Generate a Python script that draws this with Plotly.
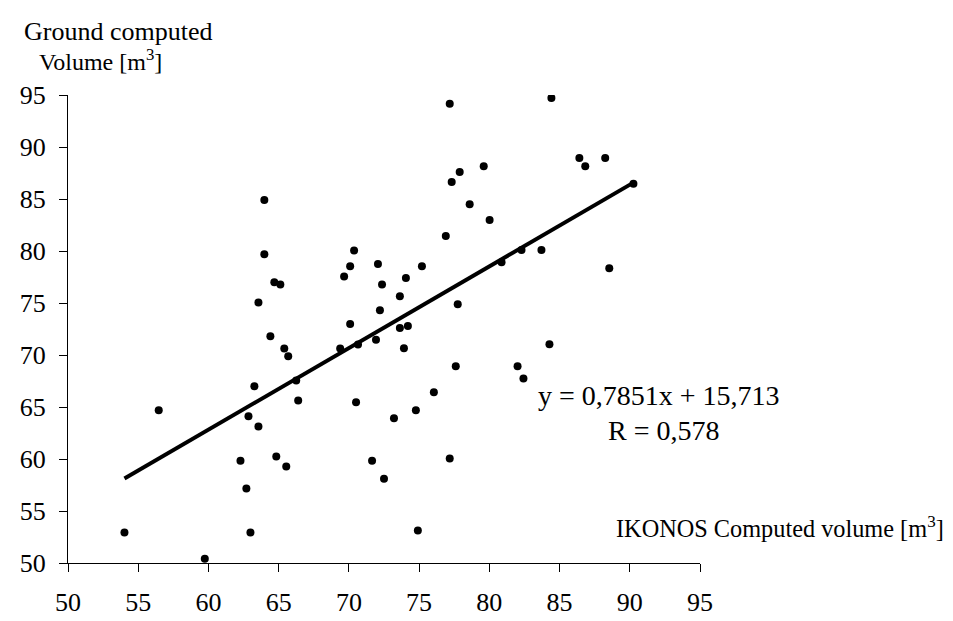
import plotly.graph_objects as go

ikonos_volume = [
    54.02, 56.46, 59.74, 62.28, 62.70, 62.85, 62.99, 63.27, 63.56, 63.56,
    63.98, 63.98, 64.41, 64.69, 64.83, 65.12, 65.40, 65.54, 65.68, 66.25,
    66.39, 69.38, 69.66, 70.09, 70.09, 70.37, 70.51, 70.65, 71.65, 71.93,
    72.07, 72.21, 72.36, 72.50, 73.21, 73.63, 73.63, 73.92, 74.06, 74.20,
    74.77, 74.91, 75.20, 76.05, 76.90, 77.18, 77.32, 77.18, 77.61, 77.75,
    77.89, 78.60, 79.60, 80.02, 80.87, 82.01, 82.29, 82.43, 83.71, 84.28,
    84.42, 86.41, 86.83, 88.25, 88.54, 90.26,
]
ground_volume = [
    52.94, 64.69, 50.41, 59.84, 57.16, 64.10, 52.94, 67.00, 63.12, 75.06,
    84.91, 79.69, 71.81, 77.00, 60.25, 76.78, 70.63, 59.28, 69.88, 67.56,
    65.63, 70.63, 77.56, 78.53, 72.97, 80.06, 65.45, 71.00, 59.84, 71.47,
    78.75, 74.31, 76.78, 58.10, 63.91, 75.66, 72.59, 70.66, 77.41, 72.78,
    64.69, 53.13, 78.53, 66.41, 81.44, 60.06, 86.63, 94.15, 68.91, 74.88,
    87.60, 84.50, 88.16, 82.97, 78.91, 68.91, 80.09, 67.75, 80.09, 71.03,
    94.72, 88.94, 88.16, 88.94, 78.34, 86.47,
]
slope = 0.7851
intercept = 15.713
r_value = "0,578"
tick_values = [50, 55, 60, 65, 70, 75, 80, 85, 90, 95]

FONT = "Liberation Serif, Times New Roman, serif"

x_min, x_max = min(ikonos_volume), max(ikonos_volume)
trend_x = [x_min, x_max]
trend_y = [slope * v + intercept for v in trend_x]

fig = go.Figure()
fig.add_trace(go.Scatter(
    x=ikonos_volume, y=ground_volume, mode="markers",
    marker=dict(color="black", size=8), showlegend=False, hoverinfo="x+y",
))
fig.add_trace(go.Scatter(
    x=trend_x, y=trend_y, mode="lines",
    line=dict(color="black", width=4), showlegend=False,
))

axis_common = dict(
    range=[50, 95], tickvals=tick_values, showgrid=False, zeroline=False,
    showline=True, linecolor="black", linewidth=1,
    ticks="outside", ticklen=8, tickcolor="black", tickwidth=1,
    tickfont=dict(family=FONT, size=26, color="black"),
)
fig.update_xaxes(**axis_common, ticklabelstandoff=8)
fig.update_yaxes(**axis_common, ticklabelstandoff=8)

annots = [
    dict(text="Ground computed", x=12, y=22, size=26),
    dict(text="Volume [m<sup>3</sup>]", x=27, y=51, size=24),
    dict(text=f"y = {str(slope).replace('.', ',')}x + {str(intercept).replace('.', ',')}",
         x=527, y=395, size=28),
    dict(text=f"R = {r_value}", x=597, y=431, size=28),
    dict(text="IKONOS Computed volume [m<sup>3</sup>]", x=605, y=530, size=24.3),
]
for a in annots:
    fig.add_annotation(
        text=a["text"], xref="paper", yref="paper",
        x=(a["x"] - 57.7) / (691.7 - 57.7),
        y=(567.3 - a["y"]) / (567.3 - 86.7),
        xanchor="left", yanchor="middle", showarrow=False,
        font=dict(family=FONT, size=a["size"], color="black"),
    )

fig.update_layout(
    width=953, height=621,
    margin=dict(l=57.7, r=953 - 691.7, t=86.7, b=621 - 567.3),
    paper_bgcolor="white", plot_bgcolor="white",
    font=dict(family=FONT, size=26, color="black"),
)

fig.write_html("out.html")
